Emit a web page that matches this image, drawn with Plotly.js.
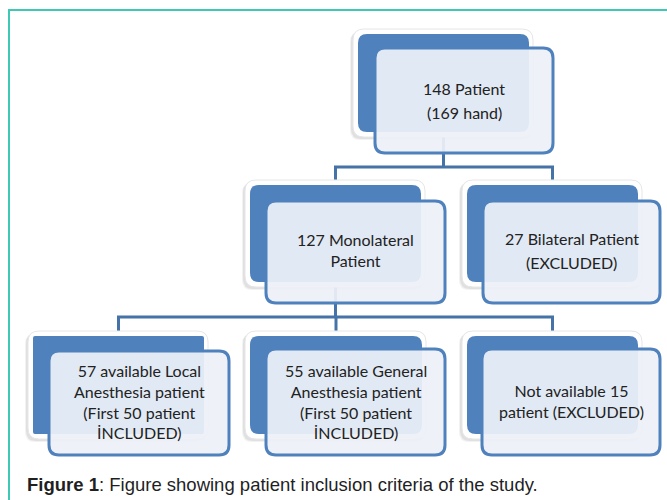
<!DOCTYPE html>
<html>
<head>
<meta charset="utf-8">
<script src="https://cdn.plot.ly/plotly-3.0.1.min.js"></script>
<style>html,body{margin:0;padding:0;background:#fff;}#chart{width:667px;height:500px;}</style>
</head>
<body>
<div id="chart"></div>
<script>
// ---- data: flowchart nodes ----
const nodeLines = [
  ["148 Patient", "(169 hand)"],
  ["127 Monolateral", "Patient"],
  ["27 Bilateral Patient", "(EXCLUDED)"],
  ["57 available Local", "Anesthesia patient", "(First 50 patient", "İNCLUDED)"],
  ["55 available General", "Anesthesia patient", "(First 50 patient", "İNCLUDED)"],
  ["Not available 15", "patient (EXCLUDED)"]
];
const parentOf = [null, 0, 0, 1, 1, 1];
const captionBold = "Figure 1";
const captionText = ": Figure showing patient inclusion criteria of the study.";

// ---- layout geometry (pixels, y downward) ----
const geom = [
  {back: [358, 34, 529, 132], front: [375, 48, 553, 153], ty: 100, gap: 24, round: true},
  {back: [250, 185, 421, 282], front: [266, 201, 445, 303], ty: 250, gap: 0, round: true},
  {back: [467, 185, 638, 282], front: [483, 201, 660, 303], ty: 250, gap: 24, round: true},
  {back: [33, 336, 204, 434], front: [49, 351, 229, 455], ty: 401.5, gap: 0, round: false},
  {back: [250, 336, 422, 434], front: [266, 349, 445, 455], ty: 401.5, gap: 0, round: true},
  {back: [467, 336, 638, 434], front: [482, 349, 660, 455], ty: 401, gap: 0, round: true}
];
const busY = {0: 167, 1: 317};

const DARK = "#4F81BD", LINE = "#4572A7";
const NODE_FONT = {family: "Lato, 'Open Sans', sans-serif", size: 16, color: "#222222"};

function rr(x0, y0, x1, y1, r) {
  return `M${x0 + r},${y0} L${x1 - r},${y0} Q${x1},${y0} ${x1},${y0 + r} L${x1},${y1 - r} Q${x1},${y1} ${x1 - r},${y1} L${x0 + r},${y1} Q${x0},${y1} ${x0},${y1 - r} L${x0},${y0 + r} Q${x0},${y0} ${x0 + r},${y0} Z`;
}

const shapes = [];
shapes.push({type: "path", path: "M9,500 L9,10 L667,10", line: {color: "#3FC9B4", width: 2}, layer: "above"});

// connectors
const parents = [...new Set(parentOf.filter(p => p !== null))];
parents.forEach(p => {
  const pb = geom[p].back;
  const px = (pb[0] + pb[2]) / 2;
  const by = busY[p];
  const kids = parentOf.map((q, i) => q === p ? i : -1).filter(i => i >= 0);
  const kx = kids.map(k => (geom[k].back[0] + geom[k].back[2]) / 2);
  shapes.push({type: "line", x0: px, y0: pb[3], x1: px, y1: by, line: {color: LINE, width: 3}});
  shapes.push({type: "line", x0: Math.min(...kx, px) - 1.5, y0: by, x1: Math.max(...kx, px) + 1.5, y1: by, line: {color: LINE, width: 3}});
  kids.forEach((k, j) => {
    shapes.push({type: "line", x0: kx[j], y0: by, x1: kx[j], y1: geom[k].back[1] - 4, line: {color: LINE, width: 3}});
  });
});

// nodes
geom.forEach(g => {
  const [x0, y0, x1, y1] = g.back;
  const r = g.round ? 9 : 2;
  shapes.push({type: "path", path: rr(x0 - 8, y0 - 2, x1 + 3, y1 + 8, 10), fillcolor: "rgba(0,0,0,0.05)", line: {width: 0}});
  shapes.push({type: "path", path: rr(x0 - 7, y0 - 3, x1 + 3, y1 + 7, 10), fillcolor: "rgba(0,0,0,0.07)", line: {width: 0}});
  shapes.push({type: "path", path: rr(x0 - 5, y0 - 5, x1 + 4, y1 + 5, 11), fillcolor: "#ffffff", line: {color: "#e6e6e6", width: 1}});
  shapes.push({type: "path", path: rr(x0, y0, x1, y1, r), fillcolor: DARK, line: {width: 0}});
  const [f0, f1, f2, f3] = g.front;
  shapes.push({type: "path", path: rr(f0, f1, f2, f3, 10), fillcolor: "rgba(237,241,248,0.93)", line: {color: DARK, width: 3}});
});

const annotations = [];
geom.forEach((g, i) => {
  const lines = nodeLines[i];
  const cx = (g.front[0] + g.front[2]) / 2;
  const n = lines.length;
  if (g.gap > 0) {
    lines.forEach((t, j) => {
      annotations.push({x: cx, y: g.ty + (j - (n - 1) / 2) * g.gap, text: t, showarrow: false,
        xanchor: "center", yanchor: "middle", font: NODE_FONT});
    });
  } else {
    annotations.push({x: cx, y: g.ty, text: lines.join("<br>"), showarrow: false,
      xanchor: "center", yanchor: "middle", align: "center", font: NODE_FONT});
  }
});
annotations.push({
  x: 25, y: 484, xanchor: "left", yanchor: "middle", showarrow: false,
  text: "<b>" + captionBold + "</b>" + captionText,
  font: {family: "'Liberation Sans', Arial, sans-serif", size: 18.5, color: "#1f1f1f"}
});

const layout = {
  width: 667, height: 500,
  margin: {l: 0, r: 0, t: 0, b: 0, pad: 0},
  paper_bgcolor: "#ffffff", plot_bgcolor: "#ffffff",
  xaxis: {range: [0, 667], visible: false, fixedrange: true},
  yaxis: {range: [500, 0], visible: false, fixedrange: true},
  shapes: shapes, annotations: annotations, showlegend: false
};
Plotly.newPlot("chart", [], layout, {staticPlot: true, displayModeBar: false});
</script>
</body>
</html>
